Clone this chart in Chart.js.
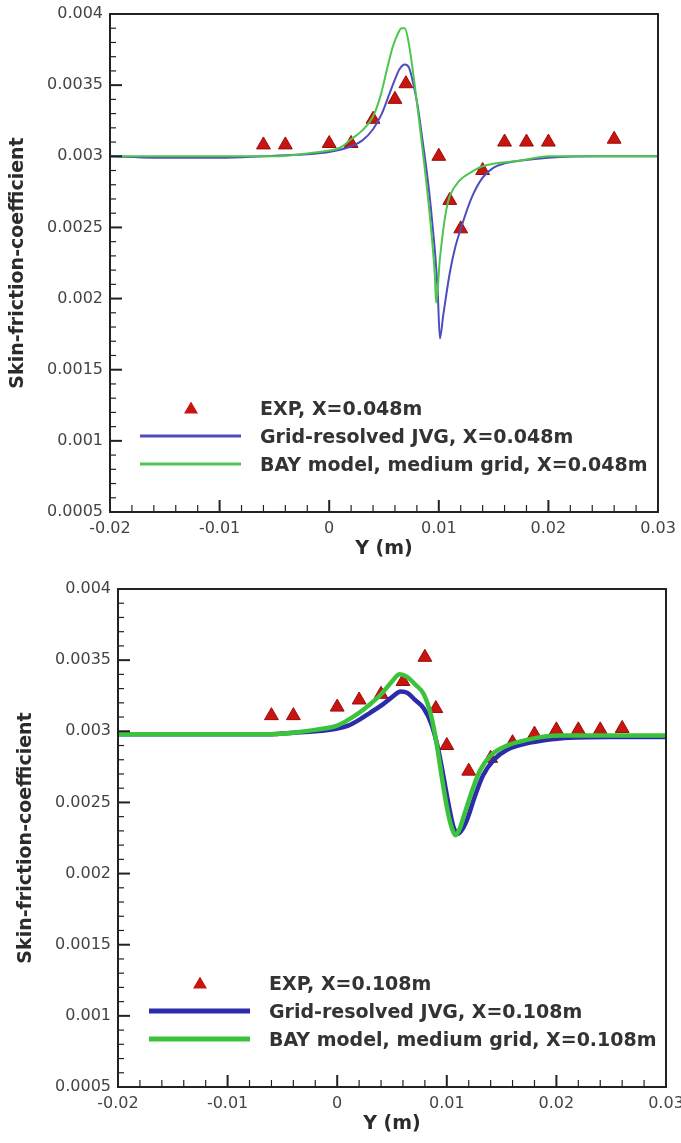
<!DOCTYPE html>
<html>
<head>
<meta charset="utf-8">
<script src="https://cdn.jsdelivr.net/npm/chart.js@4.4.1/dist/chart.umd.min.js"></script>
<style>
  html, body { margin: 0; padding: 0; background: #fff; }
  #page { position: relative; width: 681px; height: 1143px; overflow: hidden; }
  .panel { position: absolute; left: 0; width: 681px; }
  .legend { position: absolute; font: bold 19px "DejaVu Sans", sans-serif; color: #333; }
  .legend .row { position: absolute; left: 0; height: 28px; width: 560px; }
  .legend .mark { position: absolute; top: 50%; }
  .legend .tri { width: 0; height: 0; border-left: 7px solid transparent; border-right: 7px solid transparent;
                 border-bottom: 12px solid #c8150f; transform: translate(-50%, -55%); }
  .legend .ln { transform: translateY(-50%); }
  .legend .txt { position: absolute; line-height: 28px; white-space: nowrap; }
</style>
</head>
<body>
<div id="page">
  <div class="panel" style="top:0;height:570px">
    <canvas id="cfTop" width="681" height="570"></canvas>
    <div class="legend" id="legTop" style="left:140px;top:394px"></div>
  </div>
  <div class="panel" style="top:575px;height:568px">
    <canvas id="cfBottom" width="681" height="568"></canvas>
    <div class="legend" id="legBottom" style="left:149px;top:394px"></div>
  </div>
</div>
<script>
// axis ticks (shared by both panels)
const xTickValues = [-0.02, -0.01, 0, 0.01, 0.02, 0.03];
const xTickLabels = ['-0.02', '-0.01', '0', '0.01', '0.02', '0.03'];
const yTickValues = [0.0005, 0.001, 0.0015, 0.002, 0.0025, 0.003, 0.0035, 0.004];
const yTickLabels = ['0.0005', '0.001', '0.0015', '0.002', '0.0025', '0.003', '0.0035', '0.004'];
const xMinorStep = 0.002;
const yMinorStep = 0.0001;

// X = 0.048 m
const expY1  = [-0.006, -0.004, 0, 0.002, 0.004, 0.006, 0.007, 0.010, 0.011, 0.012, 0.014, 0.016, 0.018, 0.020, 0.026];
const expCf1 = [0.00308, 0.00308, 0.00309, 0.00309, 0.00326, 0.0034, 0.00351, 0.0030, 0.00269, 0.00249, 0.0029, 0.0031, 0.0031, 0.0031, 0.00312];
const jvgY1  = [-0.02, -0.016, -0.01, -0.006, -0.003, 0, 0.002, 0.003, 0.004, 0.0048, 0.0055, 0.006, 0.0064, 0.0069,
                0.0073, 0.0077, 0.0081, 0.0085, 0.009, 0.0094, 0.0097, 0.0099, 0.0101,
                0.0104, 0.011, 0.0115, 0.012, 0.013, 0.014, 0.015, 0.016, 0.0175, 0.02, 0.025, 0.03];
const jvgCf1 = [0.003, 0.00299, 0.00299, 0.003, 0.00301, 0.00303, 0.00307, 0.00311, 0.00319, 0.0033, 0.00344, 0.00354, 0.00361, 0.003645,
                0.00362, 0.0035, 0.00334, 0.00312, 0.00283, 0.00254, 0.00228, 0.00205, 0.00172,
                0.00188, 0.00218, 0.00236, 0.00249, 0.00271, 0.00285, 0.00292, 0.00295, 0.00297, 0.00299, 0.003, 0.003];
const bayY1  = [-0.02, -0.01, -0.005, -0.002, 0, 0.001, 0.002, 0.003, 0.004, 0.0047, 0.0053, 0.0058, 0.0062, 0.0066, 0.0069,
                0.0072, 0.0076, 0.008, 0.0085, 0.009, 0.0094, 0.00965, 0.00975,
                0.0101, 0.0104, 0.0107, 0.011, 0.0119, 0.013, 0.014, 0.0175, 0.02, 0.025, 0.03];
const bayCf1 = [0.003, 0.003, 0.003, 0.00302, 0.00304, 0.00306, 0.00312, 0.00318, 0.00328, 0.00343, 0.00362, 0.00377, 0.00385, 0.0039, 0.0039,
                0.00382, 0.00362, 0.00338, 0.00306, 0.00272, 0.0024, 0.00215, 0.00197,
                0.00228, 0.00248, 0.00263, 0.00272, 0.00283, 0.00289, 0.00293, 0.00297, 0.003, 0.003, 0.003];

// X = 0.108 m
const expY2  = [-0.006, -0.004, 0, 0.002, 0.004, 0.006, 0.008, 0.009, 0.010, 0.012, 0.014, 0.016, 0.018, 0.020, 0.022, 0.024, 0.026];
const expCf2 = [0.00311, 0.00311, 0.00317, 0.00322, 0.00326, 0.00335, 0.00352, 0.00316, 0.0029, 0.00272, 0.00281, 0.00292, 0.00298, 0.00301, 0.00301, 0.00301, 0.00302];
const jvgY2  = [-0.02, -0.01, -0.006, -0.004, -0.002, 0, 0.001, 0.002, 0.003, 0.004, 0.005, 0.0058, 0.0064, 0.0071, 0.0079, 0.0086,
                0.0092, 0.0097, 0.0102, 0.0106, 0.011, 0.0114, 0.0119, 0.0125, 0.0133, 0.0143, 0.0155, 0.0176, 0.0203, 0.025, 0.03];
const jvgCf2 = [0.00298, 0.00298, 0.00298, 0.00299, 0.003, 0.00302, 0.00304, 0.00308, 0.00313, 0.00318, 0.00324, 0.00328, 0.00327, 0.00322, 0.00316, 0.00305,
                0.00288, 0.00268, 0.00247, 0.00233, 0.00228, 0.00231, 0.00239, 0.00253, 0.00269, 0.0028, 0.00287, 0.00292, 0.00295, 0.00296, 0.00296];
const bayY2  = [-0.02, -0.006, -0.004, -0.002, 0, 0.001, 0.002, 0.003, 0.004, 0.005, 0.0057, 0.0064, 0.0071, 0.0079, 0.0086, 0.0091,
                0.0096, 0.0101, 0.0105, 0.0108, 0.0112, 0.0117, 0.0123, 0.013, 0.014, 0.0152, 0.0173, 0.0203, 0.025, 0.03];
const bayCf2 = [0.00298, 0.00298, 0.00299, 0.00301, 0.00304, 0.00308, 0.00313, 0.00319, 0.00326, 0.00335, 0.0034, 0.00338, 0.00333, 0.00326, 0.0031, 0.0029,
                0.00265, 0.00243, 0.00231, 0.00227, 0.00232, 0.00244, 0.00258, 0.00272, 0.00283, 0.00289, 0.00294, 0.00297, 0.00297, 0.00297];

const labels1 = ['EXP, X=0.048m', 'Grid-resolved JVG, X=0.048m', 'BAY model, medium grid, X=0.048m'];
const labels2 = ['EXP, X=0.108m', 'Grid-resolved JVG, X=0.108m', 'BAY model, medium grid, X=0.108m'];

Chart.defaults.font.family = '"DejaVu Sans", sans-serif';

const toPoints = (xs, ys) => xs.map((x, i) => ({ x: x, y: ys[i] }));

// Tecplot-like frame with inward major/minor ticks
const frameTicks = {
    id: 'frameTicks',
    afterDatasetsDraw(chart) {
        const { ctx, chartArea: a, scales: { x, y } } = chart;
        ctx.save();
        ctx.strokeStyle = '#222';

        const ny = Math.round((y.max - y.min) / yMinorStep);
        for (let i = 0; i <= ny; i++) {
            const py = y.getPixelForValue(y.min + i * yMinorStep);
            const major = i % 5 === 0;
            ctx.lineWidth = major ? 2 : 1.2;
            ctx.beginPath();
            ctx.moveTo(a.left, py);
            ctx.lineTo(a.left + (major ? 12 : 6), py);
            ctx.stroke();
        }
        const nx = Math.round((x.max - x.min) / xMinorStep);
        for (let i = 0; i <= nx; i++) {
            const px = x.getPixelForValue(x.min + i * xMinorStep);
            const major = i % 5 === 0;
            ctx.lineWidth = major ? 2 : 1.2;
            ctx.beginPath();
            ctx.moveTo(px, a.bottom);
            ctx.lineTo(px, a.bottom - (major ? 12 : 7));
            ctx.stroke();
        }
        ctx.lineWidth = 2;
        ctx.strokeRect(a.left, a.top, a.right - a.left, a.bottom - a.top);
        ctx.restore();
    }
};

function buildLegend(chart, el, lineWidth) {
    chart.data.datasets.forEach((ds, i) => {
        const row = document.createElement('div');
        row.className = 'row';
        row.style.top = (i * 28) + 'px';
        const mark = document.createElement('div');
        mark.className = 'mark';
        if (ds.showLine) {
            mark.classList.add('ln');
            mark.style.left = '0px';
            mark.style.width = '101px';
            mark.style.height = lineWidth + 'px';
            mark.style.background = ds.borderColor;
        } else {
            mark.classList.add('tri');
            mark.style.left = '51px';
        }
        const txt = document.createElement('div');
        txt.className = 'txt';
        txt.style.left = '120px';
        txt.textContent = ds.label;
        row.appendChild(mark);
        row.appendChild(txt);
        el.appendChild(row);
    });
}

function makeChart(canvasId, legendId, p) {
    const ctx = document.getElementById(canvasId).getContext('2d');
    const chart = new Chart(ctx, {
        type: 'scatter',
        data: {
            datasets: [
                {
                    label: p.labels[0],
                    data: toPoints(p.expY, p.expCf),
                    pointStyle: 'triangle',
                    pointRadius: 8,
                    backgroundColor: '#c8150f',
                    borderColor: '#9a0c08',
                    borderWidth: 1,
                    order: 3
                },
                {
                    label: p.labels[1],
                    data: toPoints(p.jvgY, p.jvgCf),
                    showLine: true,
                    pointRadius: 0,
                    borderColor: p.blue,
                    borderWidth: p.lineWidth,
                    cubicInterpolationMode: 'monotone',
                    order: 2
                },
                {
                    label: p.labels[2],
                    data: toPoints(p.bayY, p.bayCf),
                    showLine: true,
                    pointRadius: 0,
                    borderColor: p.green,
                    borderWidth: p.lineWidth,
                    cubicInterpolationMode: 'monotone',
                    order: 1
                }
            ]
        },
        options: {
            responsive: false,
            animation: false,
            events: [],
            layout: { padding: { top: 14, right: p.padRight, left: 0, bottom: 0 } },
            plugins: {
                legend: { display: false },
                tooltip: { enabled: false }
            },
            scales: {
                x: {
                    type: 'linear',
                    min: -0.02,
                    max: 0.03,
                    grid: { display: false, drawTicks: false },
                    border: { display: false },
                    afterBuildTicks: s => { s.ticks = xTickValues.map(v => ({ value: v })); },
                    afterFit: s => { s.height = p.xAxisHeight; s.paddingLeft = 0; s.paddingRight = 0; },
                    ticks: {
                        padding: 7,
                        color: '#444',
                        font: { size: 16 },
                        maxRotation: 0,
                        autoSkip: false,
                        callback: (v, i) => xTickLabels[i]
                    },
                    title: {
                        display: true,
                        text: 'Y (m)',
                        color: '#2b2b2b',
                        font: { size: 19, weight: 'bold' },
                        padding: { top: 0, bottom: p.xTitlePad }
                    }
                },
                y: {
                    type: 'linear',
                    min: 0.0005,
                    max: 0.004,
                    grid: { display: false, drawTicks: false },
                    border: { display: false },
                    afterBuildTicks: s => { s.ticks = yTickValues.map(v => ({ value: v })); },
                    afterFit: s => { s.width = p.yAxisWidth; s.paddingTop = 0; s.paddingBottom = 0; },
                    ticks: {
                        padding: 7,
                        color: '#444',
                        font: { size: 16 },
                        autoSkip: false,
                        callback: (v, i) => yTickLabels[i]
                    },
                    title: {
                        display: true,
                        text: 'Skin-friction-coefficient',
                        color: '#2b2b2b',
                        font: { size: 19, weight: 'bold' },
                        padding: { top: p.yTitlePad, bottom: 0 }
                    }
                }
            }
        },
        plugins: [frameTicks]
    });
    buildLegend(chart, document.getElementById(legendId), p.legendLine);
    return chart;
}

makeChart('cfTop', 'legTop', {
    labels: labels1,
    expY: expY1, expCf: expCf1,
    jvgY: jvgY1, jvgCf: jvgCf1,
    bayY: bayY1, bayCf: bayCf1,
    blue: '#4d4dc0', green: '#4cc64c', lineWidth: 2, legendLine: 3,
    yAxisWidth: 110, xAxisHeight: 58, padRight: 23, xTitlePad: 10, yTitlePad: 7
});

makeChart('cfBottom', 'legBottom', {
    labels: labels2,
    expY: expY2, expCf: expCf2,
    jvgY: jvgY2, jvgCf: jvgCf2,
    bayY: bayY2, bayCf: bayCf2,
    blue: '#2b2bab', green: '#3cc33c', lineWidth: 4.5, legendLine: 5,
    yAxisWidth: 118, xAxisHeight: 56, padRight: 15, xTitlePad: 8, yTitlePad: 15
});
</script>
</body>
</html>
